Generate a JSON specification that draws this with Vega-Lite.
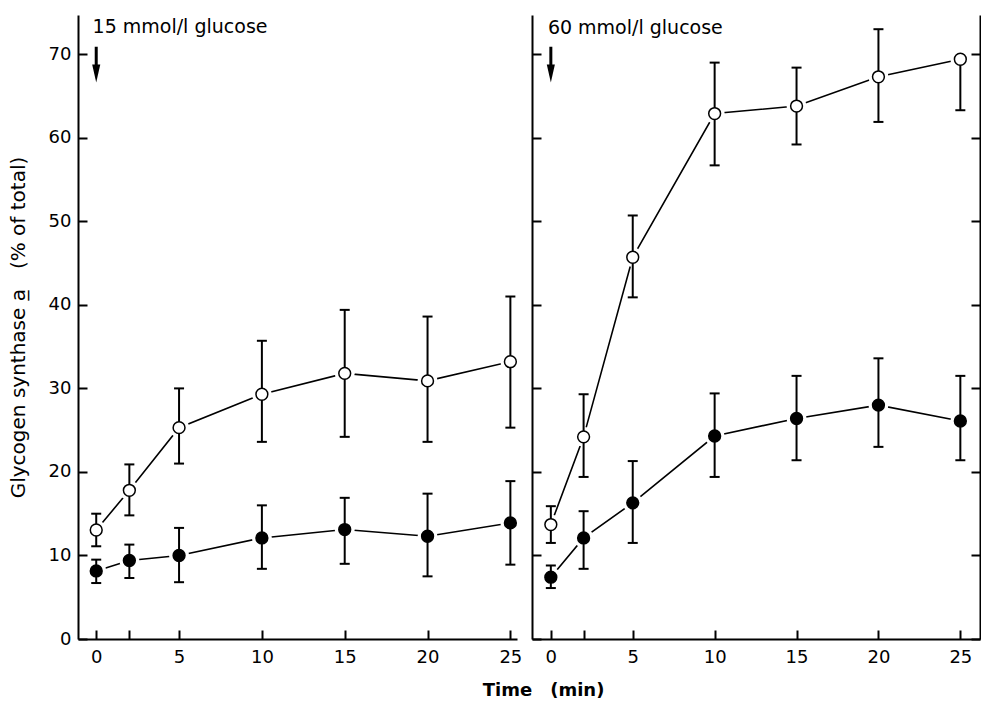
{
  "$schema": "https://vega.github.io/schema/vega-lite/v6.json",
  "background": "white",
  "padding": {"left": 8, "top": 15, "right": 0, "bottom": 0},
  "config": {
    "view": {"stroke": null},
    "font": "DejaVu Sans",
    "axis": {"domainColor": "black", "domainWidth": 2, "tickColor": "black", "tickWidth": 2, "tickSize": -9, "labelColor": "black", "labelFontSize": 18, "labelFont": "DejaVu Sans", "grid": false, "titleColor": "black"},
    "axisX": {"labelPadding": 18},
    "axisY": {"labelPadding": 16}
  },
  "title": {"text": "Time\u2003(min)", "orient": "bottom", "anchor": "middle", "fontSize": 18, "fontWeight": "bold", "font": "DejaVu Sans", "color": "black", "offset": 16, "dx": 49},
  "datasets": {
    "pts": [
      {"panel": "15", "series": "open", "t": 0, "v": 13.05, "lo": 11.1, "hi": 15.0},
      {"panel": "15", "series": "open", "t": 2, "v": 17.8, "lo": 14.8, "hi": 20.9},
      {"panel": "15", "series": "open", "t": 5, "v": 25.3, "lo": 21.0, "hi": 30.0},
      {"panel": "15", "series": "open", "t": 10, "v": 29.3, "lo": 23.6, "hi": 35.7},
      {"panel": "15", "series": "open", "t": 15, "v": 31.8, "lo": 24.2, "hi": 39.4},
      {"panel": "15", "series": "open", "t": 20, "v": 30.9, "lo": 23.6, "hi": 38.6},
      {"panel": "15", "series": "open", "t": 25, "v": 33.2, "lo": 25.3, "hi": 41.0},
      {"panel": "15", "series": "filled", "t": 0, "v": 8.15, "lo": 6.7, "hi": 9.5},
      {"panel": "15", "series": "filled", "t": 2, "v": 9.4, "lo": 7.3, "hi": 11.3},
      {"panel": "15", "series": "filled", "t": 5, "v": 10.0, "lo": 6.8, "hi": 13.3},
      {"panel": "15", "series": "filled", "t": 10, "v": 12.1, "lo": 8.4, "hi": 16.0},
      {"panel": "15", "series": "filled", "t": 15, "v": 13.1, "lo": 9.0, "hi": 16.9},
      {"panel": "15", "series": "filled", "t": 20, "v": 12.3, "lo": 7.5, "hi": 17.4},
      {"panel": "15", "series": "filled", "t": 25, "v": 13.9, "lo": 8.9, "hi": 18.9},
      {"panel": "60", "series": "open", "t": 0, "v": 13.7, "lo": 11.5, "hi": 15.9},
      {"panel": "60", "series": "open", "t": 2, "v": 24.2, "lo": 19.4, "hi": 29.3},
      {"panel": "60", "series": "open", "t": 5, "v": 45.7, "lo": 40.9, "hi": 50.7},
      {"panel": "60", "series": "open", "t": 10, "v": 62.9, "lo": 56.7, "hi": 69.0},
      {"panel": "60", "series": "open", "t": 15, "v": 63.8, "lo": 59.2, "hi": 68.4},
      {"panel": "60", "series": "open", "t": 20, "v": 67.3, "lo": 61.9, "hi": 73.0},
      {"panel": "60", "series": "open", "t": 25, "v": 69.4, "lo": 63.3, "hi": 69.4},
      {"panel": "60", "series": "filled", "t": 0, "v": 7.4, "lo": 6.1, "hi": 8.8},
      {"panel": "60", "series": "filled", "t": 2, "v": 12.1, "lo": 8.4, "hi": 15.3},
      {"panel": "60", "series": "filled", "t": 5, "v": 16.3, "lo": 11.5, "hi": 21.3},
      {"panel": "60", "series": "filled", "t": 10, "v": 24.3, "lo": 19.4, "hi": 29.4},
      {"panel": "60", "series": "filled", "t": 15, "v": 26.4, "lo": 21.4, "hi": 31.5},
      {"panel": "60", "series": "filled", "t": 20, "v": 28.0, "lo": 23.0, "hi": 33.6},
      {"panel": "60", "series": "filled", "t": 25, "v": 26.1, "lo": 21.4, "hi": 31.5}
    ],
    "notes": [
      {"panel": "15", "label": "15 mmol/l glucose", "tx": -0.22, "ty": 72.6, "ax": 0, "atop": 70.9, "abot": 68.4, "ahead": 67.7},
      {"panel": "60", "label": "60 mmol/l glucose", "tx": -0.18, "ty": 72.4, "ax": 0, "atop": 70.9, "abot": 68.4, "ahead": 67.7}
    ]
  },
  "spacing": 9,
  "hconcat": [
    {
      "width": 439,
      "height": 624,
      "resolve": {"axis": {"x": "independent", "y": "independent"}},
      "layer": [
        {
          "data": {"name": "pts"},
          "transform": [{"filter": "datum.panel == '15'"}],
          "mark": {"type": "line", "color": "black", "strokeWidth": 1.6},
          "encoding": {
            "x": {"field": "t", "type": "quantitative", "scale": {"domain": [-1.1, 25.4], "nice": false, "zero": false}, "axis": {"values": [0, 2, 5, 10, 15, 20, 25], "labelExpr": "datum.value == 2 ? '' : datum.label", "title": null}},
            "y": {"field": "v", "type": "quantitative", "scale": {"domain": [0, 74.7], "nice": false}, "axis": {"values": [0, 10, 20, 30, 40, 50, 60, 70], "title": "Glycogen synthase a\u0332\u2003(% of total)", "titleFontSize": 20, "titleFontWeight": "normal", "titleFont": "DejaVu Sans", "titlePadding": 20}},
            "detail": {"field": "series"}
          }
        },
        {
          "data": {"name": "pts"},
          "transform": [{"filter": "datum.panel == '15'"}],
          "mark": {"type": "point", "shape": "circle", "filled": true, "color": "white", "opacity": 1, "size": 400},
          "encoding": {
            "x": {"field": "t", "type": "quantitative", "scale": {"domain": [-1.1, 25.4], "nice": false, "zero": false}, "axis": null},
            "y": {"field": "v", "type": "quantitative", "scale": {"domain": [0, 74.7], "nice": false}, "axis": null}
          }
        },
        {
          "data": {"name": "pts"},
          "transform": [{"filter": "datum.panel == '15'"}],
          "mark": {"type": "rule", "color": "black", "strokeWidth": 2},
          "encoding": {
            "x": {"field": "t", "type": "quantitative", "scale": {"domain": [-1.1, 25.4], "nice": false, "zero": false}, "axis": null},
            "y": {"field": "lo", "type": "quantitative", "scale": {"domain": [0, 74.7], "nice": false}, "axis": null},
            "y2": {"field": "hi"}
          }
        },
        {
          "data": {"name": "pts"},
          "transform": [{"filter": "datum.panel == '15'"}],
          "mark": {"type": "tick", "orient": "horizontal", "color": "black", "thickness": 2, "size": 10, "opacity": 1},
          "encoding": {
            "x": {"field": "t", "type": "quantitative", "scale": {"domain": [-1.1, 25.4], "nice": false, "zero": false}, "axis": null},
            "y": {"field": "lo", "type": "quantitative", "scale": {"domain": [0, 74.7], "nice": false}, "axis": null}
          }
        },
        {
          "data": {"name": "pts"},
          "transform": [{"filter": "datum.panel == '15'"}],
          "mark": {"type": "tick", "orient": "horizontal", "color": "black", "thickness": 2, "size": 10, "opacity": 1},
          "encoding": {
            "x": {"field": "t", "type": "quantitative", "scale": {"domain": [-1.1, 25.4], "nice": false, "zero": false}, "axis": null},
            "y": {"field": "hi", "type": "quantitative", "scale": {"domain": [0, 74.7], "nice": false}, "axis": null}
          }
        },
        {
          "data": {"name": "pts"},
          "transform": [{"filter": "datum.panel == '15'"}],
          "mark": {"type": "point", "shape": "circle", "filled": true, "stroke": "black", "strokeWidth": 1.5, "opacity": 1, "size": 140},
          "encoding": {
            "x": {"field": "t", "type": "quantitative", "scale": {"domain": [-1.1, 25.4], "nice": false, "zero": false}, "axis": null},
            "y": {"field": "v", "type": "quantitative", "scale": {"domain": [0, 74.7], "nice": false}, "axis": null},
            "fill": {"field": "series", "type": "nominal", "scale": {"domain": ["open", "filled"], "range": ["white", "black"]}, "legend": null}
          }
        },
        {
          "data": {"name": "notes"},
          "transform": [{"filter": "datum.panel == '15'"}],
          "mark": {"type": "rule", "color": "black", "strokeWidth": 3},
          "encoding": {
            "x": {"field": "ax", "type": "quantitative", "scale": {"domain": [-1.1, 25.4], "nice": false, "zero": false}, "axis": null},
            "y": {"field": "atop", "type": "quantitative", "scale": {"domain": [0, 74.7], "nice": false}, "axis": null},
            "y2": {"field": "abot"}
          }
        },
        {
          "data": {"name": "notes"},
          "transform": [{"filter": "datum.panel == '15'"}],
          "mark": {"type": "point", "shape": "M-0.45,-1L0.45,-1L0,1Z", "filled": true, "color": "black", "opacity": 1, "size": 324},
          "encoding": {
            "x": {"field": "ax", "type": "quantitative", "scale": {"domain": [-1.1, 25.4], "nice": false, "zero": false}, "axis": null},
            "y": {"field": "ahead", "type": "quantitative", "scale": {"domain": [0, 74.7], "nice": false}, "axis": null}
          }
        },
        {
          "data": {"name": "notes"},
          "transform": [{"filter": "datum.panel == '15'"}],
          "mark": {"type": "text", "align": "left", "baseline": "alphabetic", "fontSize": 19, "font": "DejaVu Sans", "color": "black"},
          "encoding": {
            "x": {"field": "tx", "type": "quantitative", "scale": {"domain": [-1.1, 25.4], "nice": false, "zero": false}, "axis": null},
            "y": {"field": "ty", "type": "quantitative", "scale": {"domain": [0, 74.7], "nice": false}, "axis": null},
            "text": {"field": "label"}
          }
        }
      ]
    },
    {
      "width": 448,
      "height": 624,
      "resolve": {"axis": {"x": "independent", "y": "independent"}},
      "layer": [
        {
          "data": {"name": "pts"},
          "transform": [{"filter": "datum.panel == '60'"}],
          "mark": {"type": "line", "color": "black", "strokeWidth": 1.6},
          "encoding": {
            "x": {"field": "t", "type": "quantitative", "scale": {"domain": [-1.15, 26.2], "nice": false, "zero": false}, "axis": {"values": [0, 2, 5, 10, 15, 20, 25], "labelExpr": "datum.value == 2 ? '' : datum.label", "title": null}},
            "y": {"field": "v", "type": "quantitative", "scale": {"domain": [0, 74.7], "nice": false}, "axis": {"values": [0, 10, 20, 30, 40, 50, 60, 70], "labels": false, "title": null}},
            "detail": {"field": "series"}
          }
        },
        {
          "data": {"name": "pts"},
          "transform": [{"filter": "datum.panel == '60'"}],
          "mark": {"type": "point", "shape": "circle", "filled": true, "color": "white", "opacity": 1, "size": 400},
          "encoding": {
            "x": {"field": "t", "type": "quantitative", "scale": {"domain": [-1.15, 26.2], "nice": false, "zero": false}, "axis": null},
            "y": {"field": "v", "type": "quantitative", "scale": {"domain": [0, 74.7], "nice": false}, "axis": {"orient": "right", "values": [0, 10, 20, 30, 40, 50, 60, 70], "labels": false, "title": null}}
          }
        },
        {
          "data": {"name": "pts"},
          "transform": [{"filter": "datum.panel == '60'"}],
          "mark": {"type": "rule", "color": "black", "strokeWidth": 2},
          "encoding": {
            "x": {"field": "t", "type": "quantitative", "scale": {"domain": [-1.15, 26.2], "nice": false, "zero": false}, "axis": null},
            "y": {"field": "lo", "type": "quantitative", "scale": {"domain": [0, 74.7], "nice": false}, "axis": null},
            "y2": {"field": "hi"}
          }
        },
        {
          "data": {"name": "pts"},
          "transform": [{"filter": "datum.panel == '60'"}],
          "mark": {"type": "tick", "orient": "horizontal", "color": "black", "thickness": 2, "size": 10, "opacity": 1},
          "encoding": {
            "x": {"field": "t", "type": "quantitative", "scale": {"domain": [-1.15, 26.2], "nice": false, "zero": false}, "axis": null},
            "y": {"field": "lo", "type": "quantitative", "scale": {"domain": [0, 74.7], "nice": false}, "axis": null}
          }
        },
        {
          "data": {"name": "pts"},
          "transform": [{"filter": "datum.panel == '60'"}],
          "mark": {"type": "tick", "orient": "horizontal", "color": "black", "thickness": 2, "size": 10, "opacity": 1},
          "encoding": {
            "x": {"field": "t", "type": "quantitative", "scale": {"domain": [-1.15, 26.2], "nice": false, "zero": false}, "axis": null},
            "y": {"field": "hi", "type": "quantitative", "scale": {"domain": [0, 74.7], "nice": false}, "axis": null}
          }
        },
        {
          "data": {"name": "pts"},
          "transform": [{"filter": "datum.panel == '60'"}],
          "mark": {"type": "point", "shape": "circle", "filled": true, "stroke": "black", "strokeWidth": 1.5, "opacity": 1, "size": 140},
          "encoding": {
            "x": {"field": "t", "type": "quantitative", "scale": {"domain": [-1.15, 26.2], "nice": false, "zero": false}, "axis": null},
            "y": {"field": "v", "type": "quantitative", "scale": {"domain": [0, 74.7], "nice": false}, "axis": null},
            "fill": {"field": "series", "type": "nominal", "scale": {"domain": ["open", "filled"], "range": ["white", "black"]}, "legend": null}
          }
        },
        {
          "data": {"name": "notes"},
          "transform": [{"filter": "datum.panel == '60'"}],
          "mark": {"type": "rule", "color": "black", "strokeWidth": 3},
          "encoding": {
            "x": {"field": "ax", "type": "quantitative", "scale": {"domain": [-1.15, 26.2], "nice": false, "zero": false}, "axis": null},
            "y": {"field": "atop", "type": "quantitative", "scale": {"domain": [0, 74.7], "nice": false}, "axis": null},
            "y2": {"field": "abot"}
          }
        },
        {
          "data": {"name": "notes"},
          "transform": [{"filter": "datum.panel == '60'"}],
          "mark": {"type": "point", "shape": "M-0.45,-1L0.45,-1L0,1Z", "filled": true, "color": "black", "opacity": 1, "size": 324},
          "encoding": {
            "x": {"field": "ax", "type": "quantitative", "scale": {"domain": [-1.15, 26.2], "nice": false, "zero": false}, "axis": null},
            "y": {"field": "ahead", "type": "quantitative", "scale": {"domain": [0, 74.7], "nice": false}, "axis": null}
          }
        },
        {
          "data": {"name": "notes"},
          "transform": [{"filter": "datum.panel == '60'"}],
          "mark": {"type": "text", "align": "left", "baseline": "alphabetic", "fontSize": 19, "font": "DejaVu Sans", "color": "black"},
          "encoding": {
            "x": {"field": "tx", "type": "quantitative", "scale": {"domain": [-1.15, 26.2], "nice": false, "zero": false}, "axis": null},
            "y": {"field": "ty", "type": "quantitative", "scale": {"domain": [0, 74.7], "nice": false}, "axis": null},
            "text": {"field": "label"}
          }
        }
      ]
    }
  ]
}
